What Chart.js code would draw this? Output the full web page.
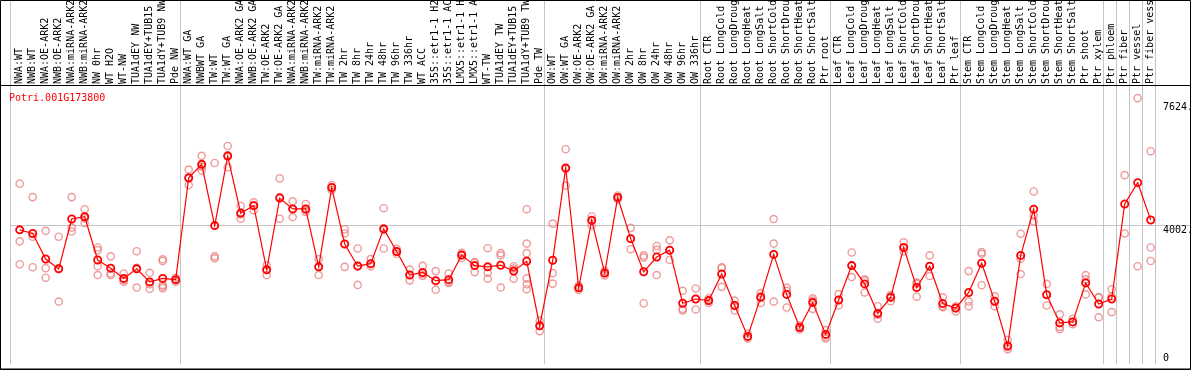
<!DOCTYPE html>
<html><head><meta charset="utf-8">
<script src="https://cdn.jsdelivr.net/npm/chart.js@4.4.1/dist/chart.umd.min.js"></script>
<style>html,body{margin:0;padding:0;background:#fff;overflow:hidden}canvas{display:block}</style>
</head><body>
<canvas id="c" width="1194" height="370"></canvas>
<script>
const geneTitle = "Potri.001G173800";
const categories = [
 "NWA:WT","NWB:WT","NWA:OE-ARK2","NWB:OE-ARK2","NWA:miRNA-ARK2","NWB:miRNA-ARK2","NW 0hr","WT H2O","WT-NW","TUA1dEY NW",
 "TUA1dEY+TUB15 NW","TUA1dY+TUB9 NW","Pde NW","NWA:WT GA","NWBWT GA","TW:WT","TW:WT GA","NWA:OE-ARK2 GA","NWB:OE-ARK2 GA","TW:OE-ARK2",
 "TW:OE-ARK2 GA","NWA:miRNA-ARK2 GA","NWB:miRNA-ARK2 GA","TW:miRNA-ARK2","TW:miRNA-ARK2 GA","TW 2hr","TW 8hr","TW 24hr","TW 48hr","TW 96hr",
 "TW 336hr","WT ACC","35S::etr1-1 H2O","35S::etr1-1 ACC","LMX5::etr1-1 H2O","LMX5::etr1-1 ACC","WT-TW","TUA1dEY TW","TUA1dEY+TUB15 TW","TUA1dY+TUB9 TW",
 "Pde TW","OW:WT","OW:WT GA","OW:OE-ARK2","OW:OE-ARK2 GA","OW:miRNA-ARK2","OW:miRNA-ARK2 GA","OW 2hr","OW 8hr","OW 24hr",
 "OW 48hr","OW 96hr","OW 336hr","Root CTR","Root LongCold","Root LongDrought","Root LongHeat","Root LongSalt","Root ShortCold","Root ShortDrought",
 "Root ShortHeat","Root ShortSalt","Ptr root","Leaf CTR","Leaf LongCold","Leaf LongDrought","Leaf LongHeat","Leaf LongSalt","Leaf ShortCold","Leaf ShortDrought",
 "Leaf ShortHeat","Leaf ShortSalt","Ptr leaf","Stem CTR","Stem LongCold","Stem LongDrought","Stem LongHeat","Stem LongSalt","Stem ShortCold","Stem ShortDrought",
 "Stem ShortHeat","Stem ShortSalt","Ptr shoot","Ptr xylem","Ptr phloem","Ptr fiber","Ptr vessel","Ptr fiber vessel"
];
const groupSizes = [13, 28, 12, 10, 10, 11, 1, 1, 1, 1];
const meanValues = [
 3869, 3763, 3015, 2728, 4185, 4252, 2987, 2748, 2449, 2728,
 2346, 2449, 2412, 5393, 5784, 3993, 6025, 4358, 4576, 2699,
 4798, 4481, 4481, 2786, 5105, 3455, 2806, 2880, 3898, 3237,
 2547, 2622, 2383, 2412, 3130, 2823, 2786, 2834, 2662, 2949,
 1061, 2978, 5680, 2173, 4145, 2604, 4818, 3611, 2642, 3073,
 3274, 1722, 1846, 1800, 2576, 1656, 753, 1894, 3151, 1981,
 1012, 1742, 811, 1817, 2823, 2288, 1426, 1894, 3352, 2182,
 2806, 1713, 1578, 2038, 2892, 1779, 477, 3122, 4473, 1972,
 1147, 1176, 2317, 1702, 1846, 4625, 5249, 4157
];
const replicateValues = [
 [5220,3533,2863],[4826,3668,2777],[3840,2748,2469],[3668,2748,1771],[4826,3935,3820],
 [4473,4203,4070],[3352,3274,2806,2547],[3093,2593,2547],[2593,2403,2354],[3245,2757,2182],
 [2613,2277,2144],[3007,2958,2259,2211,2162],[2469,2403,2354],[5631,5364,5180],[6034,5718,5603],
 [5824,3093,3036],[6321,6054,5697],[4568,4318,4194],[4674,4588,4444],[2834,2708,2547],
 [5373,4826,4194],[4703,4481,4243],[4625,4453,4395],[3015,2786,2547],[5180,5105,5036],
 [3886,3763,2786],[3323,2834,2259],[3015,2872,2806],[4502,3869,3323],[3312,3237,3168],
 [2708,2547,2392],[2814,2564,2518],[2662,2374,2116],[2593,2346,2317],[3197,3130,3044],
 [2929,2909,2633],[3332,2613,2441],[3188,3122,2182],[2806,2737,2441],[4473,3467,3188,2449,2277,2133],
 [1213,1061,908],[4050,2604,2297],[6226,5652,5163],[2239,2173,2110],[4260,4165,4001],
 [2671,2604,2535],[4875,4818,4760],[3927,3611,3303],[3122,3064,1722],[3398,3283,2547],
 [3562,3274,2995],[2087,1558,1512],[2153,1846,1541],[1866,1800,1731],[2777,2748,2202],
 [1800,1656,1512],[839,753,696],[2018,1932,1731],[4185,3467,1771],[2182,2087,1598],
 [1069,1012,954],[1866,1800,1558],[937,745,696],[1989,1817,1656],[3208,2823,2489],
 [2420,2374,2038],[1636,1377,1271],[1960,1923,1779],[3504,3352,3237],[2326,2297,1914],
 [3122,2806,2518],[1894,1636,1607],[1636,1607,1483],[2662,1771,1636],[3217,3168,2248],
 [1923,1779,1636],[650,437,379],[3754,3024,2576],[4990,4289,4116],[2288,1972,1656],
 [1397,1032,966],[1271,1176,1110],[2547,2420,1981],[1894,1894,1311],[2133,1923,1463],
 [5468,3763],[7721,2806],[6169,3352,2958]
];
const yTickValues = [0, 4002, 7624];
const yTickLabels = ["0", "4002.", "7624."];

const FONT = '10px "DejaVu Sans Mono", "Liberation Mono", monospace';

const framePlugin = {
  id: 'frame',
  beforeDatasetsDraw(chart) {
    const ctx = chart.ctx, xs = chart.scales.x, ys = chart.scales.y, a = chart.chartArea;
    const W = 1190;
    ctx.save();
    // group boundary grid lines
    ctx.strokeStyle = '#c4c4c4';
    ctx.lineWidth = 1;
    const bounds = [xs.min];
    let c = 0;
    groupSizes.forEach(n => { c += n; bounds.push(c - 1 + 0.36); });
    bounds.forEach(b => {
      const px = Math.round(xs.getPixelForValue(b)) + 0.5;
      ctx.beginPath(); ctx.moveTo(px, 0); ctx.lineTo(px, a.bottom); ctx.stroke();
    });
    // horizontal line at middle tick
    const hy = Math.round(ys.getPixelForValue(yTickValues[1])) + 0.5;
    ctx.beginPath(); ctx.moveTo(a.left, hy); ctx.lineTo(W, hy); ctx.stroke();

    // black frame
    ctx.strokeStyle = '#000';
    ctx.beginPath();
    ctx.moveTo(0.5, 0.5); ctx.lineTo(W + 0.5, 0.5); ctx.lineTo(W + 0.5, 369.5);
    ctx.lineTo(0.5, 369.5); ctx.closePath(); ctx.stroke();
    ctx.beginPath(); ctx.moveTo(0, 85.5); ctx.lineTo(W + 0.5, 85.5); ctx.stroke();
    ctx.lineWidth = 1.2;
    ctx.beginPath(); ctx.moveTo(0, 369.2); ctx.lineTo(W + 0.5, 369.2); ctx.stroke();

    // category labels (rotated)
    ctx.font = FONT;
    ctx.fillStyle = '#000';
    ctx.textAlign = 'left';
    ctx.textBaseline = 'alphabetic';
    ctx.save();
    ctx.beginPath(); ctx.rect(1, 1, W - 1, 84); ctx.clip();
    categories.forEach((lab, i) => {
      const px = xs.getPixelForValue(i);
      ctx.save();
      ctx.translate(Math.round(px) + 2, 84);
      ctx.rotate(-Math.PI / 2);
      ctx.fillText(lab, 0, 0);
      ctx.restore();
    });
    ctx.restore();

    // title
    ctx.fillStyle = '#ff0000';
    ctx.fillText(geneTitle, 9, 100.5);

    // y tick labels
    ctx.fillStyle = '#000';
    yTickValues.forEach((v, k) => {
      const py = ys.getPixelForValue(v);
      if (v === 0) { ctx.textBaseline = 'alphabetic'; ctx.fillText(yTickLabels[k], 1163, py - 1.5); }
      else { ctx.textBaseline = 'top'; ctx.fillText(yTickLabels[k], 1163, py + 0.5); }
    });
    ctx.restore();
  }
};

const meanData = meanValues.map((v, i) => ({ x: i, y: v }));
const repData = [];
replicateValues.forEach((arr, i) => arr.forEach(v => repData.push({ x: i, y: v })));

new Chart(document.getElementById('c'), {
  type: 'line',
  data: {
    datasets: [
      {
        label: 'mean', data: meanData, order: 0,
        borderColor: '#ff0000', borderWidth: 1.2,
        pointRadius: 3.6, pointBorderWidth: 1.8,
        pointBorderColor: '#ff0000', pointBackgroundColor: 'rgba(0,0,0,0)',
        tension: 0, clip: false
      },
      {
        label: 'replicates', data: repData, order: 1, showLine: false,
        pointRadius: 3.6, pointBorderWidth: 1.4,
        pointBorderColor: 'rgba(232,120,120,0.75)', pointBackgroundColor: 'rgba(0,0,0,0)',
        clip: false
      }
    ]
  },
  options: {
    responsive: false,
    devicePixelRatio: 1,
    animation: false,
    events: [],
    layout: { padding: { left: 10, right: 38.7, top: 86, bottom: 1 } },
    plugins: { legend: { display: false }, tooltip: { enabled: false } },
    scales: {
      x: { type: 'linear', min: -0.746, max: 87.354, display: false },
      y: { type: 'linear', min: -60, max: 8075, display: false }
    }
  },
  plugins: [framePlugin]
});
</script>
</body></html>
